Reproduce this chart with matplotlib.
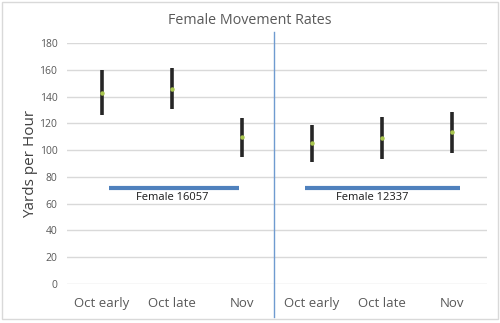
import matplotlib
matplotlib.use("Agg")
import matplotlib.pyplot as plt
from matplotlib.patches import Rectangle

# periods for both females
categories = ["Oct early", "Oct late", "Nov", "Oct early", "Oct late", "Nov"]
means = [143, 145.5, 110, 105, 109, 113.5]
upper = [160, 161, 124, 118.5, 125, 128.5]
lower = [126.5, 130.5, 94.5, 91, 93.5, 98]

# female groups: label, line extent (category units), label center, line level
groups = ["Female 16057", "Female 12337"]
line_from = [0.1, 2.9]
line_to = [1.96, 5.12]
label_at = [1.0, 3.86]
group_level = 72

plt.rcParams["font.family"] = ["Open Sans", "DejaVu Sans"]

fig = plt.figure(figsize=(5, 3.23), dpi=100)
ax = fig.add_axes([0.134, 0.1207, 0.84, 0.7462])

x = list(range(len(categories)))
err_lo = [m - l for m, l in zip(means, lower)]
err_hi = [u - m for m, u in zip(means, upper)]
ax.errorbar(x, means, yerr=[err_lo, err_hi], fmt="none", ecolor="#262626",
            elinewidth=2.6, capsize=0, zorder=3)
ax.plot(x, means, "o", color="#A9C64F", markersize=2.2, zorder=4)

# group lines and labels
for name, a, b, c in zip(groups, line_from, line_to, label_at):
    ax.plot([a, b], [group_level, group_level], color="#4F81BD",
            linewidth=3, solid_capstyle="butt", zorder=2)
    ax.text(c, group_level - 3, name, ha="center", va="top",
            fontsize=8, color="#1a1a1a")

# divider between the two females
ax.plot([2.46, 2.46], [-24.6, 188.5], color="#6F9BD0", linewidth=1,
        clip_on=False, zorder=2)

ax.set_xlim(-0.5, 5.5)
ax.set_ylim(0, 180)
ax.set_yticks(range(0, 181, 20))
ax.set_xticks(x)
ax.set_xticklabels(categories, fontsize=9.5, color="#595959")
ax.tick_params(axis="y", labelsize=7.5, colors="#595959", length=0, pad=7)
ax.tick_params(axis="x", length=0, pad=9)
ax.grid(axis="y", color="#d9d9d9", linewidth=1)
ax.set_axisbelow(True)
for sp in ax.spines.values():
    sp.set_visible(False)

ax.set_ylabel("Yards per Hour", fontsize=11, color="#404040", labelpad=1)
fig.text(0.5, 0.937, "Female Movement Rates", ha="center", va="center",
         fontsize=10.3, color="#595959")

# chart border
fig.patches.append(Rectangle((0.003, 0.012), 0.992, 0.983, transform=fig.transFigure,
                             fill=False, edgecolor="#d9d9d9", linewidth=1))

fig.savefig("out.png", dpi=100)
